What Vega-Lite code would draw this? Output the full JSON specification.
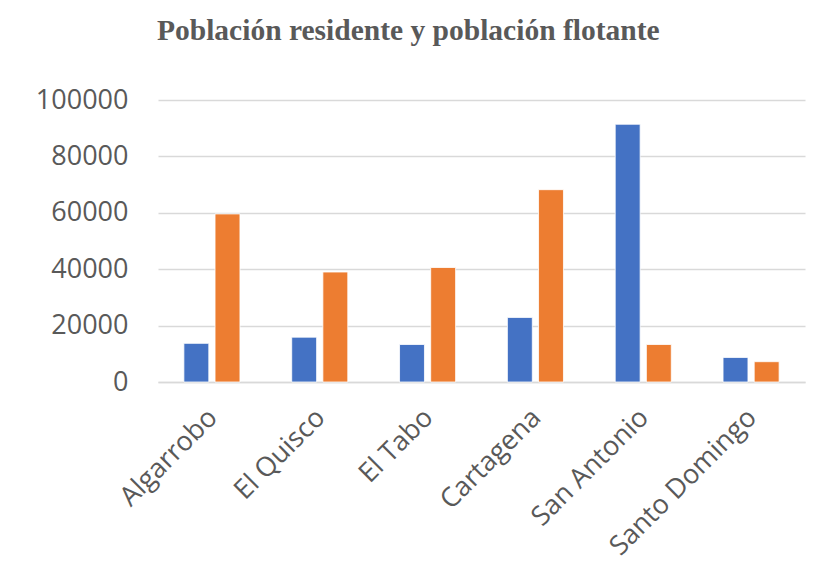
{
  "$schema": "https://vega.github.io/schema/vega-lite/v6.json",
  "autosize": {"type": "none"},
  "width": 647,
  "height": 282,
  "padding": {"left": 158, "top": 100, "right": 11, "bottom": 200},
  "background": "white",
  "title": {
    "text": "Población residente y población flotante",
    "font": "Liberation Serif",
    "fontSize": 29.5,
    "fontWeight": "bold",
    "color": "#595959",
    "anchor": "start",
    "frame": "group",
    "dx": -1,
    "offset": 40
  },
  "data": {
    "values": [
      {"comuna": "Algarrobo", "serie": "Población residente", "valor": 13700},
      {"comuna": "Algarrobo", "serie": "Población flotante", "valor": 59600},
      {"comuna": "El Quisco", "serie": "Población residente", "valor": 15900},
      {"comuna": "El Quisco", "serie": "Población flotante", "valor": 39000},
      {"comuna": "El Tabo", "serie": "Población residente", "valor": 13300},
      {"comuna": "El Tabo", "serie": "Población flotante", "valor": 40600},
      {"comuna": "Cartagena", "serie": "Población residente", "valor": 22900},
      {"comuna": "Cartagena", "serie": "Población flotante", "valor": 68200},
      {"comuna": "San Antonio", "serie": "Población residente", "valor": 91400},
      {"comuna": "San Antonio", "serie": "Población flotante", "valor": 13300},
      {"comuna": "Santo Domingo", "serie": "Población residente", "valor": 8700},
      {"comuna": "Santo Domingo", "serie": "Población flotante", "valor": 7200}
    ]
  },
  "mark": {"type": "bar", "stroke": "white", "strokeWidth": 0.8},
  "encoding": {
    "x": {
      "field": "comuna",
      "type": "nominal",
      "sort": null,
      "scale": {"paddingInner": 0.48, "paddingOuter": 0.24},
      "axis": {
        "title": null,
        "labelAngle": -45,
        "labelFont": "Open Sans",
        "labelFontSize": 27,
        "labelColor": "#595959",
        "labelLimit": 0,
        "ticks": false,
        "domainColor": "#d9d9d9",
        "domainWidth": 1.5,
        "labelPadding": 22,
        "labelOffset": -8,
        "grid": false
      }
    },
    "xOffset": {
      "field": "serie",
      "type": "nominal",
      "sort": ["Población residente", "Población flotante"],
      "scale": {"paddingInner": 0.2}
    },
    "y": {
      "field": "valor",
      "type": "quantitative",
      "scale": {"domain": [0, 100000], "nice": false},
      "axis": {
        "title": null,
        "values": [0, 20000, 40000, 60000, 80000, 100000],
        "format": "d",
        "labelFont": "Open Sans",
        "labelFontSize": 27,
        "labelColor": "#595959",
        "labelPadding": 30,
        "ticks": false,
        "domain": false,
        "gridColor": "#d9d9d9",
        "gridWidth": 1.5
      }
    },
    "color": {
      "field": "serie",
      "type": "nominal",
      "sort": ["Población residente", "Población flotante"],
      "scale": {"range": ["#4472C4", "#ED7D31"]},
      "legend": null
    }
  },
  "config": {"view": {"stroke": null}}
}
